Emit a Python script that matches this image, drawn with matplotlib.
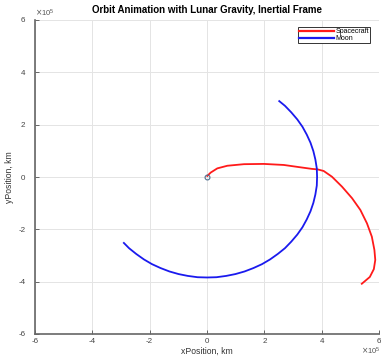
import numpy as np
import matplotlib
matplotlib.use("Agg")
import matplotlib.pyplot as plt
from matplotlib.ticker import FuncFormatter

# positions in units of 1e5 km
sc_x = [0.01, 0.13, 0.36, 0.71, 1.29, 1.98, 2.68, 3.26, 3.66, 3.86,
        4.07, 4.36, 4.71, 5.06, 5.35, 5.58, 5.75, 5.84, 5.87, 5.82,
        5.68, 5.40]
sc_y = [0.04, 0.17, 0.33, 0.43, 0.49, 0.50, 0.46, 0.37, 0.31, 0.29,
        0.23, 0.01, -0.37, -0.81, -1.26, -1.77, -2.28, -2.79, -3.17, -3.52,
        -3.82, -4.08]

moon_x = [2.52, 2.72, 2.94, 3.15, 3.33, 3.48, 3.61, 3.71, 3.78, 3.83,
          3.84, 3.83, 3.78, 3.71, 3.61, 3.48, 3.33, 3.15, 2.94, 2.72,
          2.47, 2.20, 1.92, 1.62, 1.31, 0.99, 0.67, 0.33, 0.00, -0.33,
          -0.67, -0.99, -1.31, -1.62, -1.92, -2.20, -2.47, -2.72, -2.90]
moon_y = [2.90, 2.72, 2.47, 2.20, 1.92, 1.62, 1.31, 0.99, 0.67, 0.33,
          0.00, -0.33, -0.67, -0.99, -1.31, -1.62, -1.92, -2.20, -2.47, -2.72,
          -2.94, -3.15, -3.33, -3.48, -3.61, -3.71, -3.78, -3.83, -3.84, -3.83,
          -3.78, -3.71, -3.61, -3.48, -3.33, -3.15, -2.94, -2.72, -2.52]

earth_x = [0.0]
earth_y = [0.0]

ticks = [-6, -4, -2, 0, 2, 4, 6]
SCALE = 1e5

plt.rcParams["font.family"] = ["Liberation Sans", "DejaVu Sans"]
plt.rcParams["axes.unicode_minus"] = False

fig = plt.figure(figsize=(3.81, 3.58), dpi=100)
ax = fig.add_axes([35/381, 24/358, 344/381, 314/358])

ax.plot(np.array(sc_x)*SCALE, np.array(sc_y)*SCALE, color="#ff1a1a", lw=1.3, label="Spacecraft")
ax.plot(np.array(moon_x)*SCALE, np.array(moon_y)*SCALE, color="#1a1aee", lw=1.3, label="Moon")
ax.plot(np.array(earth_x)*SCALE, np.array(earth_y)*SCALE, "o", mfc="none", mec="#4f6f8f", ms=3.5, mew=0.8)

ax.set_xlim(-6*SCALE, 6*SCALE)
ax.set_ylim(-6*SCALE, 6*SCALE)
ax.set_xticks(np.array(ticks)*SCALE)
ax.set_yticks(np.array(ticks)*SCALE)
fmt = FuncFormatter(lambda v, pos: "%g" % (v/SCALE))
ax.xaxis.set_major_formatter(fmt)
ax.yaxis.set_major_formatter(fmt)

# exponent labels, MATLAB style
ax.text(0.0, 1.004, r"$\times\mathregular{10^{5}}$", transform=ax.transAxes,
        ha="left", va="bottom", fontsize=5.5, color="#555555")
fig.text(0.999, 0.004, r"$\times\mathregular{10^{5}}$", ha="right", va="bottom",
         fontsize=5.5, color="#555555")

ax.grid(True, color="#e4e4e4", lw=0.7)
ax.set_axisbelow(True)
for s in ["top", "right"]:
    ax.spines[s].set_visible(False)
for s in ["left", "bottom"]:
    ax.spines[s].set_color("#666666")
    ax.spines[s].set_linewidth(1.2)
ax.tick_params(direction="in", length=3, width=0.7, colors="#666666",
               labelsize=5.8, labelcolor="#444444")
ax.tick_params(axis="x", pad=3)
ax.tick_params(axis="y", pad=7)

ax.set_title("Orbit Animation with Lunar Gravity, Inertial Frame",
             fontsize=7, fontweight="bold", pad=5)
ax.set_xlabel("xPosition, km", fontsize=6.2, color="#333333", labelpad=1)
ax.set_ylabel("yPosition, km", fontsize=6.2, color="#333333", labelpad=3)

leg = ax.legend(loc="upper right", fontsize=5, handlelength=5.0,
                borderpad=0.2, labelspacing=0.0, handletextpad=0.2,
                fancybox=False, framealpha=1, bbox_to_anchor=(0.985, 0.99))
leg.get_frame().set_edgecolor("#333333")
leg.get_frame().set_linewidth(0.7)
for line in leg.get_lines():
    line.set_linewidth(1.6)

fig.savefig("out.png", dpi=100)
